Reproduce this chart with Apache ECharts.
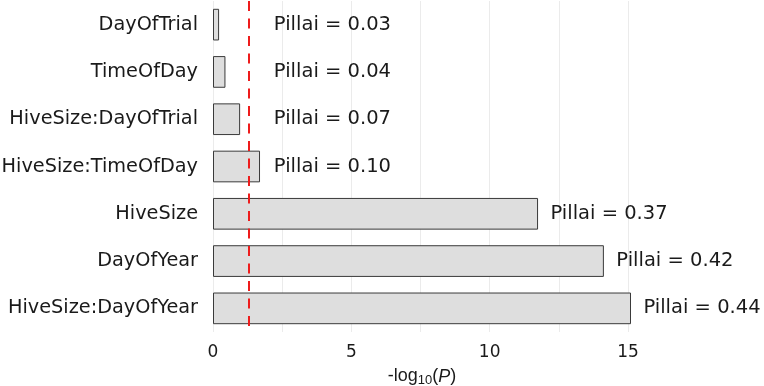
<!DOCTYPE html>
<html>
<head>
<meta charset="utf-8">
<script src="https://cdn.jsdelivr.net/npm/echarts@6/dist/echarts.min.js"></script>
<style>
  html, body { margin: 0; padding: 0; background: #fff; }
  #main { width: 764px; height: 386px; }
</style>
</head>
<body>
<div id="main"></div>
<script>
// effects, top to bottom
var terms = ['DayOfTrial', 'TimeOfDay', 'HiveSize:DayOfTrial', 'HiveSize:TimeOfDay',
             'HiveSize', 'DayOfYear', 'HiveSize:DayOfYear'];
// -log10(P)
var logP = [0.22, 0.45, 0.98, 1.70, 11.75, 14.13, 15.11];
// Pillai trace
var pillai = ['0.03', '0.04', '0.07', '0.10', '0.37', '0.42', '0.44'];
// significance threshold, -log10(0.05)
var threshold = 1.301;
var xTicks = [0, 5, 10, 15];

var chart = echarts.init(document.getElementById('main'));

// labels sit right of the bar, but never left of the threshold area
var labelPts = logP.map(function (v, i) {
  return [Math.max(v, 1.75) + 0.45, terms[i]];
});

var option = {
  animation: false,
  textStyle: { fontFamily: 'DejaVu Sans' },
  grid: { left: 213, right: 133, top: 1, bottom: 54, outerBoundsMode: 'none', containLabel: false },
  xAxis: {
    type: 'value',
    min: 0,
    max: 15.11,
    interval: 2.5,
    axisLine: { show: false },
    axisTick: { show: false },
    axisLabel: {
      fontSize: 17,
      color: '#1a1a1a',
      margin: 12,
      showMaxLabel: false,
      formatter: function (v) {
        return xTicks.indexOf(v) >= 0 ? String(v) : '';
      }
    },
    splitLine: { show: true, showMaxLine: false, lineStyle: { color: '#ebebeb', width: 1 } },
    name: '-log{sub|10}({it|P})',
    nameLocation: 'middle',
    nameGap: 34,
    nameTextStyle: {
      fontFamily: 'Liberation Sans',
      fontSize: 18,
      color: '#1a1a1a',
      rich: {
        sub: { fontFamily: 'Liberation Sans', fontSize: 13, verticalAlign: 'bottom', padding: [8, 0, 0, 0], color: '#1a1a1a' },
        it: { fontFamily: 'Liberation Sans', fontSize: 18, fontStyle: 'italic', color: '#1a1a1a' }
      }
    }
  },
  yAxis: {
    type: 'category',
    data: terms,
    inverse: true,
    axisLine: { show: false },
    axisTick: { show: false },
    axisLabel: { fontSize: 19.3, color: '#1a1a1a', margin: 15 },
    splitLine: { show: false }
  },
  series: [
    {
      type: 'bar',
      data: logP,
      barWidth: '67%',
      itemStyle: { color: '#dedede', borderColor: '#3a3a3a', borderWidth: 1 },
      markLine: {
        silent: true,
        symbol: 'none',
        label: { show: false },
        lineStyle: { color: '#ee1c1c', type: [10, 7.5], width: 2 },
        data: [{ xAxis: threshold }]
      }
    },
    {
      type: 'scatter',
      data: labelPts,
      symbolSize: 0,
      clip: false,
      silent: true,
      itemStyle: { opacity: 1 },
      label: {
        show: true,
        position: 'right',
        distance: 0,
        fontSize: 19.5,
        color: '#1a1a1a',
        formatter: function (p) { return 'Pillai = ' + pillai[p.dataIndex]; }
      }
    }
  ]
};

chart.setOption(option);
</script>
</body>
</html>
